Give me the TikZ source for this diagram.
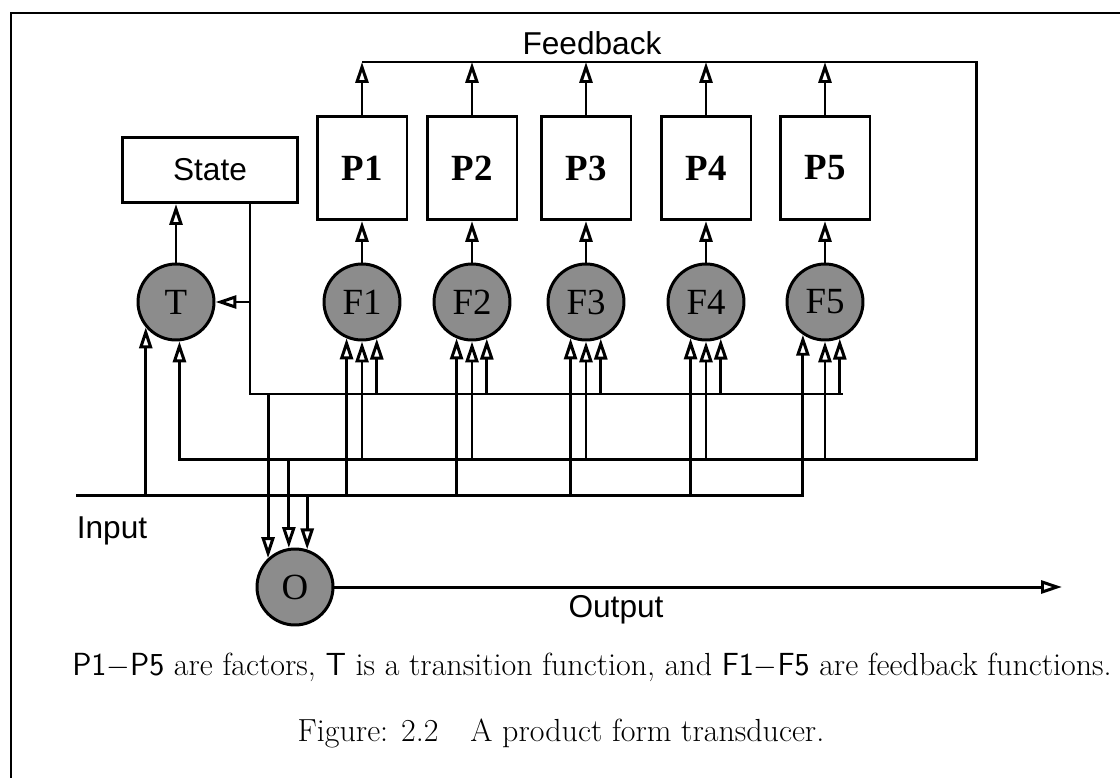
\documentclass[tikz,border=0pt]{standalone}
\usepackage{fontspec}
\usetikzlibrary{arrows.meta}
\newfontfamily\helv{Liberation Sans}
\newfontfamily\tms{Liberation Serif}

\begin{document}
\begin{tikzpicture}[
  x=0.02cm, y=-0.02cm, line width=1.7pt,
  pbox/.style={draw, rectangle, minimum width=1.8cm, minimum height=2.06cm,
               font=\tms\bfseries\fontsize{21}{21}\selectfont},
  sbox/.style={draw, rectangle, minimum width=3.5cm, minimum height=1.3cm,
               font=\helv\fontsize{18}{18}\selectfont},
  fn/.style={draw, circle, fill=black!45, minimum size=1.52cm, inner sep=0pt,
             font=\tms\fontsize{21}{21}\selectfont},
  lbl/.style={font=\helv\fontsize{18}{18}\selectfont},
  >={Triangle[open, length=0.42cm, width=0.26cm]}
]
  \useasboundingbox (0,0) rectangle (1120,778);
  \draw[line width=1.2pt] (11,778) -- (11,13) -- (1120,13);

  \node[sbox] (st) at (210,170) {State};
  \node[pbox] (P1) at (362,168) {P1};
  \node[pbox] (P2) at (472,168) {P2};
  \node[pbox] (P3) at (586,168) {P3};
  \node[pbox] (P4) at (706,168) {P4};
  \node[pbox] (P5) at (825,168) {P5};

  \node[fn] (T)  at (176,302) {T};
  \node[fn] (F1) at (362,302) {F1};
  \node[fn] (F2) at (472,302) {F2};
  \node[fn] (F3) at (586,302) {F3};
  \node[fn] (F4) at (706,302) {F4};
  \node[fn] (F5) at (825,302) {F5};
  \node[fn] (O)  at (295,587) {O};

  \node[lbl] (fbl) at (592,43)  {Feedback};
  \node[lbl] (inl) at (112,531) {Input};
  \node[lbl] (otl) at (616,610) {Output};

  \coordinate (fbr)  at (976,62);
  \coordinate (fbus) at (976,459);
  \coordinate (sl)   at (250,394);
  \coordinate (sb)   at (843,394);
  \coordinate (ib)   at (76,495);
  \coordinate (out)  at (1062,587);

  % feedback loop back to T
  \draw[->] (P1.north |- fbr) -- (fbr) -- (fbus) -| (T.-85);
  % state bus
  \draw (st.south -| sl) -- (sl) -- (sb);
  \draw[->] (T -| sl) -- (T);
  \draw[->] (T) -- (T |- st.south);
  % input line
  \draw[->] (ib) -| (F5.-124);
  \draw[->] (T.-140 |- ib) -- (T.-140);

  \foreach \i in {1,...,5} {
    \draw[->] (F\i) -- (P\i);
    \draw[->] (P\i) -- (P\i |- fbr);
    \draw[->] (F\i.-90 |- fbus) -- (F\i.-90);
    \draw[->] (F\i.-68 |- sb) -- (F\i.-68);
  }
  \foreach \i in {1,...,4}
    \draw[->] (F\i.-113 |- ib) -- (F\i.-113);

  \draw[->] (O.133 |- sl) -- (O.133);
  \draw[->] (O.99 |- fbus) -- (O.99);
  \draw[->] (O.72 |- ib) -- (O.72);
  \draw[->] (O) -- (out);

  \node[font=\fontsize{18.2}{18.2}\selectfont] (cap) at (592,667)
    {\textsf{P1}$-$\textsf{P5} are factors, \textsf{T} is a transition function, and \textsf{F1}$-$\textsf{F5} are feedback functions.};
  \node[font=\fontsize{18.2}{18.2}\selectfont] (fig) at (561,733)
    {Figure: 2.2\quad A product form transducer.};
\end{tikzpicture}
\end{document}
